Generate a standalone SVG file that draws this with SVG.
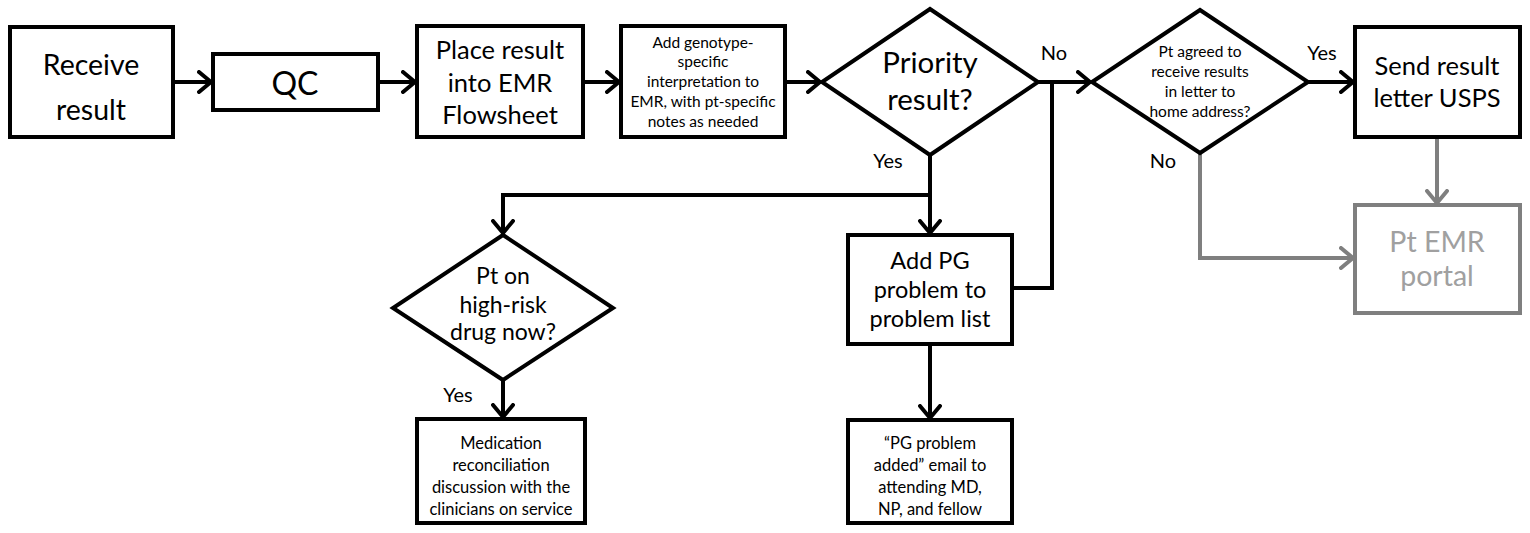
<svg xmlns="http://www.w3.org/2000/svg" width="1530" height="533" viewBox="0 0 1530 533">
  <defs>
    <marker id="chev" markerUnits="userSpaceOnUse" viewBox="-14 -12 16 24" refX="0" refY="0" markerWidth="16" markerHeight="24" orient="auto">
      <path d="M-12,-10 L0,0 L-12,10" fill="none" stroke="#000" stroke-width="4" stroke-linejoin="round" stroke-linecap="round"/>
    </marker>
    <marker id="chevGray" markerUnits="userSpaceOnUse" viewBox="-14 -12 16 24" refX="0" refY="0" markerWidth="16" markerHeight="24" orient="auto">
      <path d="M-12,-10 L0,0 L-12,10" fill="none" stroke="#7f7f7f" stroke-width="4" stroke-linejoin="round" stroke-linecap="round"/>
    </marker>
  </defs>
  <style>
    .box { fill: #fff; stroke: #000; stroke-width: 4; }
    .boxGray { fill: #fff; stroke: #7f7f7f; stroke-width: 4; }
    .t { font-family: Lato, "Liberation Sans", sans-serif; fill: #000; text-anchor: middle; }
    .tg { font-family: Lato, "Liberation Sans", sans-serif; fill: #a0a0a0; text-anchor: middle; }
    .lbl { font-family: Lato, "Liberation Sans", sans-serif; fill: #000; font-size: 20px; text-anchor: middle; }
    .c { fill: none; stroke: #000; stroke-width: 4; }
    .cg { fill: none; stroke: #7f7f7f; stroke-width: 4; }
  </style>

  <!-- connectors -->
  <g id="connectors">
    <path class="c" d="M173,82 H211" marker-end="url(#chev)"/>
    <path class="c" d="M378,82 H415" marker-end="url(#chev)"/>
    <path class="c" d="M583,82 H619" marker-end="url(#chev)"/>
    <path class="c" d="M785,82 H820" marker-end="url(#chev)"/>
    <path class="c" d="M1038,82 H1090" marker-end="url(#chev)"/>
    <path class="c" d="M1012,288 H1052 V82"/>
    <path class="c" d="M930,155 V233" marker-end="url(#chev)"/>
    <path class="c" d="M930,195 H503 V233" marker-end="url(#chev)"/>
    <path class="c" d="M503,380 V417" marker-end="url(#chev)"/>
    <path class="c" d="M930,344 V418" marker-end="url(#chev)"/>
    <path class="c" d="M1308,82 H1353" marker-end="url(#chev)"/>
    <path class="cg" d="M1437,137 V203" marker-end="url(#chevGray)"/>
    <path class="cg" d="M1200,153 V258 H1353" marker-end="url(#chevGray)"/>
  </g>

  <!-- connector labels -->
  <g id="labels">
    <text class="lbl" x="1054" y="60">No</text>
    <text class="lbl" x="888" y="168">Yes</text>
    <text class="lbl" x="1163" y="168">No</text>
    <text class="lbl" x="1322" y="60">Yes</text>
    <text class="lbl" x="458" y="402">Yes</text>
  </g>

  <g id="receive">
    <rect class="box" x="10" y="27" width="163" height="110"/>
    <text class="t" font-size="28.5" x="91" y="75">Receive</text>
    <text class="t" font-size="28.5" x="91" y="120">result</text>
  </g>

  <g id="qc">
    <rect class="box" x="213" y="54" width="165" height="56"/>
    <text class="t" font-size="32" x="295" y="95">QC</text>
  </g>

  <g id="place">
    <rect class="box" x="417" y="26" width="166" height="111"/>
    <text class="t" font-size="25.5" x="500" y="59">Place result</text>
    <text class="t" font-size="25.5" x="500" y="92">into EMR</text>
    <text class="t" font-size="25.5" x="500" y="124">Flowsheet</text>
  </g>

  <g id="interpret">
    <rect class="box" x="621" y="26" width="164" height="111"/>
    <text class="t" font-size="15.5" x="703" y="48">Add genotype-</text>
    <text class="t" font-size="15.5" x="703" y="67">specific</text>
    <text class="t" font-size="15.5" x="703" y="87">interpretation to</text>
    <text class="t" font-size="15.5" x="703" y="107">EMR, with pt-specific</text>
    <text class="t" font-size="15.5" x="703" y="127">notes as needed</text>
  </g>

  <g id="priority">
    <polygon class="box" points="930,9 1038,82 930,155 822,82"/>
    <text class="t" font-size="29.5" x="930" y="73">Priority</text>
    <text class="t" font-size="29.5" x="930" y="110">result?</text>
  </g>

  <g id="agreed">
    <polygon class="box" points="1200,10 1308,82 1200,153 1092,82"/>
    <text class="t" font-size="15.5" x="1200" y="57">Pt agreed to</text>
    <text class="t" font-size="15.5" x="1200" y="77">receive results</text>
    <text class="t" font-size="15.5" x="1200" y="97">in letter to</text>
    <text class="t" font-size="15.5" x="1200" y="117">home address?</text>
  </g>

  <g id="letter">
    <rect class="box" x="1355" y="27" width="165" height="110"/>
    <text class="t" font-size="25.5" x="1437" y="75">Send result</text>
    <text class="t" font-size="25.5" x="1437" y="107">letter USPS</text>
  </g>

  <g id="portal">
    <rect class="boxGray" x="1355" y="205" width="165" height="108"/>
    <text class="tg" font-size="28.5" x="1437" y="252">Pt EMR</text>
    <text class="tg" font-size="28.5" x="1437" y="286">portal</text>
  </g>

  <g id="highrisk">
    <polygon class="box" points="503,235 613,308 503,380 393,308"/>
    <text class="t" font-size="23" x="503" y="284">Pt on</text>
    <text class="t" font-size="23" x="503" y="313">high-risk</text>
    <text class="t" font-size="23" x="503" y="340">drug now?</text>
  </g>

  <g id="problem">
    <rect class="box" x="848" y="235" width="164" height="109"/>
    <text class="t" font-size="23.5" x="930" y="269">Add PG</text>
    <text class="t" font-size="23.5" x="930" y="298">problem to</text>
    <text class="t" font-size="23.5" x="930" y="327">problem list</text>
  </g>

  <g id="medrec">
    <rect class="box" x="417" y="419" width="168" height="104"/>
    <text class="t" font-size="16.5" x="501" y="449">Medication</text>
    <text class="t" font-size="16.5" x="501" y="471">reconciliation</text>
    <text class="t" font-size="16.5" x="501" y="493">discussion with the</text>
    <text class="t" font-size="16.5" x="501" y="515">clinicians on service</text>
  </g>

  <g id="email">
    <rect class="box" x="848" y="420" width="164" height="103"/>
    <text class="t" font-size="16.5" x="930" y="449">“PG problem</text>
    <text class="t" font-size="16.5" x="930" y="471">added” email to</text>
    <text class="t" font-size="16.5" x="930" y="493">attending MD,</text>
    <text class="t" font-size="16.5" x="930" y="515">NP, and fellow</text>
  </g>
</svg>
